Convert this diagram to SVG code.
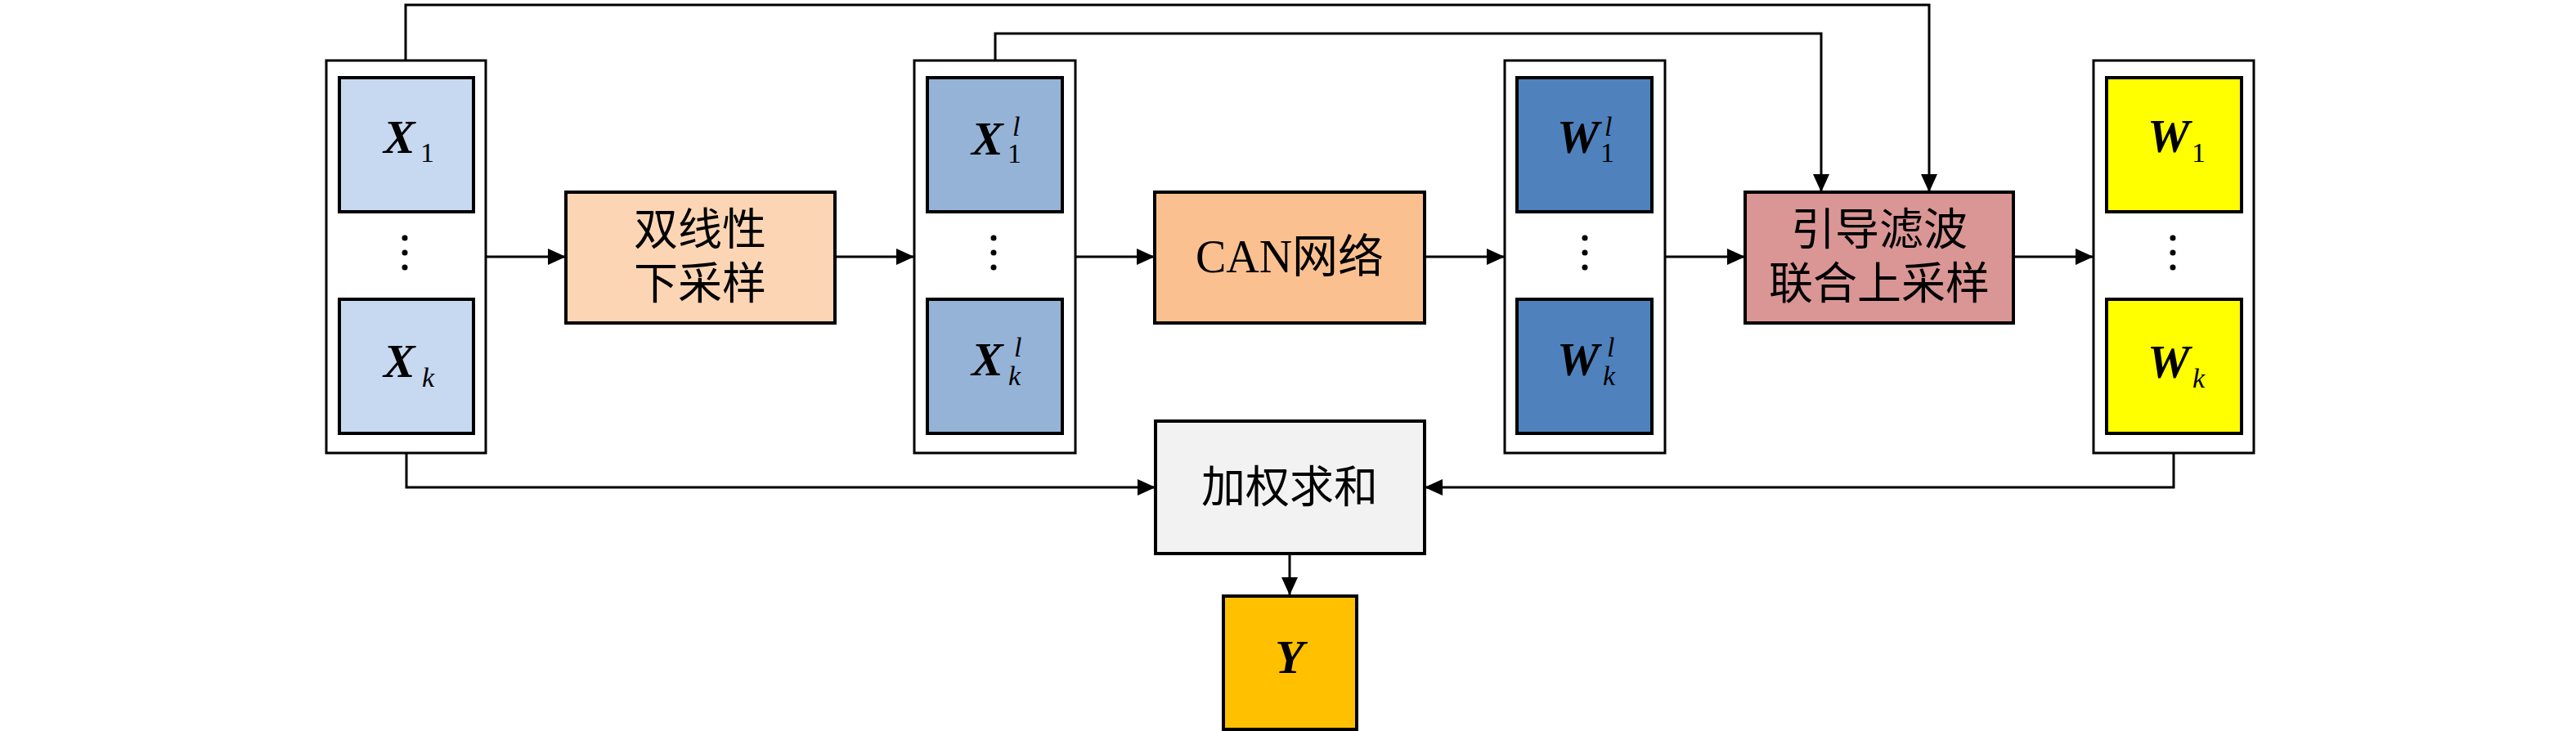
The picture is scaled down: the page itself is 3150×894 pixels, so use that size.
<svg xmlns="http://www.w3.org/2000/svg" width="3150" height="894" viewBox="0 0 3150 894">
<style>
.outer{fill:#fff;stroke:#000;stroke-width:3}
.inner{stroke:#000;stroke-width:4}
.blk{stroke:#000;stroke-width:4}
.cn{font-family:"Liberation Serif","Noto Sans CJK SC",serif;font-size:54px;fill:#000;text-anchor:middle;dominant-baseline:central}
.mv{font-family:"Liberation Serif",serif;font-weight:bold;font-style:italic;font-size:58px;fill:#000}
.sb{font-family:"Liberation Serif",serif;font-size:34px;fill:#000}
.si{font-family:"Liberation Serif",serif;font-style:italic;font-size:34px;fill:#000}
.con{fill:none;stroke:#000;stroke-width:3;marker-end:url(#ah)}
.dot{fill:#000}
</style>
<defs>
<marker id="ah" markerUnits="userSpaceOnUse" markerWidth="24" markerHeight="22" refX="22" refY="10" orient="auto">
<path d="M0,0 L22,10 L0,20 Z" fill="#000"/>
</marker>
</defs>
<rect width="3150" height="894" fill="#fff"/>

<g id="connectors">
<path class="con" d="M496,73 V6 H2359 V235"/>
<path class="con" d="M1217,73 V41 H2227 V235"/>
<path class="con" d="M594,314 H692"/>
<path class="con" d="M1021,314 H1118"/>
<path class="con" d="M1315,314 H1412"/>
<path class="con" d="M1742,314 H1840"/>
<path class="con" d="M2036,314 H2134"/>
<path class="con" d="M2462,314 H2560"/>
<path class="con" d="M497,555 V596 H1413"/>
<path class="con" d="M2658,554 V596 H1742"/>
<path class="con" d="M1577,678 V728"/>
</g>

<g id="input-X">
<rect class="outer" x="399" y="74" width="195" height="480"/>
<rect class="inner" x="415" y="95" width="164" height="164" fill="#C6D9F0"/>
<rect class="inner" x="415" y="366" width="164" height="164" fill="#C6D9F0"/>
<text class="mv" x="469" y="187">X</text><text class="sb" x="514" y="198">1</text>
<circle class="dot" cx="495" cy="291" r="3.5"/><circle class="dot" cx="495" cy="309" r="3.5"/><circle class="dot" cx="495" cy="327" r="3.5"/>
<text class="mv" x="469" y="461">X</text><text class="si" x="516" y="473">k</text>
</g>

<g id="bilinear">
<rect class="blk" x="692" y="235" width="329" height="160" fill="#FCD5B5"/>
<text class="cn" x="856" y="282">双线性</text>
<text class="cn" x="856" y="348">下采样</text>
</g>

<g id="low-X">
<rect class="outer" x="1118" y="74" width="197" height="480"/>
<rect class="inner" x="1134" y="95" width="165" height="164" fill="#95B3D7"/>
<rect class="inner" x="1134" y="366" width="165" height="164" fill="#95B3D7"/>
<text class="mv" x="1188" y="189">X</text><text class="si" x="1238" y="166">l</text><text class="sb" x="1232" y="199">1</text>
<circle class="dot" cx="1215" cy="291" r="3.5"/><circle class="dot" cx="1215" cy="309" r="3.5"/><circle class="dot" cx="1215" cy="327" r="3.5"/>
<text class="mv" x="1188" y="459">X</text><text class="si" x="1240" y="436">l</text><text class="si" x="1233" y="471">k</text>
</g>

<g id="can">
<rect class="blk" x="1412" y="235" width="330" height="160" fill="#FAC090"/>
<text class="cn" x="1577" y="314" style="font-size:56px">CAN网络</text>
</g>

<g id="low-W">
<rect class="outer" x="1840" y="74" width="196" height="480"/>
<rect class="inner" x="1855" y="95" width="165" height="164" fill="#4F81BD"/>
<rect class="inner" x="1855" y="366" width="165" height="164" fill="#4F81BD"/>
<text class="mv" x="1904" y="187">W</text><text class="si" x="1962" y="166">l</text><text class="sb" x="1957" y="198">1</text>
<circle class="dot" cx="1938" cy="291" r="3.5"/><circle class="dot" cx="1938" cy="309" r="3.5"/><circle class="dot" cx="1938" cy="327" r="3.5"/>
<text class="mv" x="1904" y="459">W</text><text class="si" x="1965" y="436">l</text><text class="si" x="1960" y="471">k</text>
</g>

<g id="guided">
<rect class="blk" x="2134" y="235" width="328" height="160" fill="#D99694"/>
<text class="cn" x="2298" y="282">引导滤波</text>
<text class="cn" x="2298" y="348">联合上采样</text>
</g>

<g id="output-W">
<rect class="outer" x="2560" y="74" width="196" height="480"/>
<rect class="inner" x="2576" y="95" width="165" height="164" fill="#FFFF00"/>
<rect class="inner" x="2576" y="366" width="165" height="164" fill="#FFFF00"/>
<text class="mv" x="2626" y="186">W</text><text class="sb" x="2680" y="198">1</text>
<circle class="dot" cx="2657" cy="291" r="3.5"/><circle class="dot" cx="2657" cy="309" r="3.5"/><circle class="dot" cx="2657" cy="327" r="3.5"/>
<text class="mv" x="2626" y="462">W</text><text class="si" x="2681" y="474">k</text>
</g>

<g id="weighted-sum">
<rect class="blk" x="1413" y="515" width="329" height="162" fill="#F2F2F2"/>
<text class="cn" x="1577" y="597">加权求和</text>
</g>

<g id="output-Y">
<rect class="blk" x="1496" y="729" width="163" height="163" fill="#FFC000"/>
<text class="mv" x="1577" y="823" style="text-anchor:middle">Y</text>
</g>
</svg>
